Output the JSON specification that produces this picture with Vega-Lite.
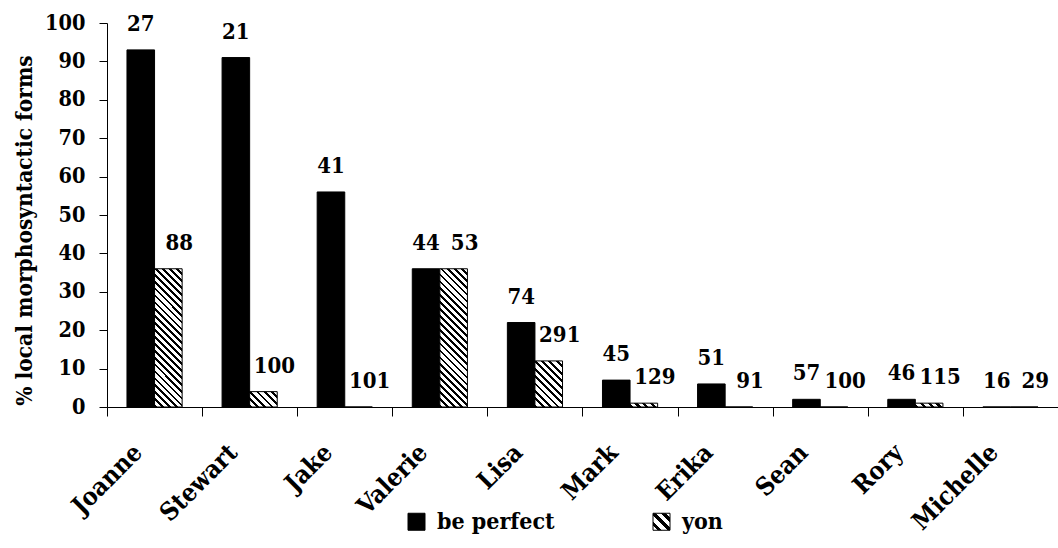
{
  "$schema": "https://vega.github.io/schema/vega-lite/v6.json",
  "width": 951,
  "height": 384,
  "autosize": {"type": "none"},
  "padding": {"left": 107, "top": 23, "right": 0, "bottom": 141},
  "background": "white",
  "data": {
    "values": [
      {"name": "Joanne", "series": "be perfect", "pct": 93, "n": 27},
      {"name": "Joanne", "series": "yon", "pct": 36, "n": 88},
      {"name": "Stewart", "series": "be perfect", "pct": 91, "n": 21},
      {"name": "Stewart", "series": "yon", "pct": 4, "n": 100},
      {"name": "Jake", "series": "be perfect", "pct": 56, "n": 41},
      {"name": "Jake", "series": "yon", "pct": 0, "n": 101},
      {"name": "Valerie", "series": "be perfect", "pct": 36, "n": 44},
      {"name": "Valerie", "series": "yon", "pct": 36, "n": 53},
      {"name": "Lisa", "series": "be perfect", "pct": 22, "n": 74},
      {"name": "Lisa", "series": "yon", "pct": 12, "n": 291},
      {"name": "Mark", "series": "be perfect", "pct": 7, "n": 45},
      {"name": "Mark", "series": "yon", "pct": 1, "n": 129},
      {"name": "Erika", "series": "be perfect", "pct": 6, "n": 51},
      {"name": "Erika", "series": "yon", "pct": 0, "n": 91},
      {"name": "Sean", "series": "be perfect", "pct": 2, "n": 57},
      {"name": "Sean", "series": "yon", "pct": 0, "n": 100},
      {"name": "Rory", "series": "be perfect", "pct": 2, "n": 46},
      {"name": "Rory", "series": "yon", "pct": 1, "n": 115},
      {"name": "Michelle", "series": "be perfect", "pct": 0, "n": 16},
      {"name": "Michelle", "series": "yon", "pct": 0, "n": 29}
    ]
  },
  "encoding": {
    "x": {
      "field": "name", "type": "nominal", "sort": null,
      "scale": {"type": "band", "paddingInner": 0.42, "paddingOuter": 0.21},
      "axis": {
        "title": null, "domainColor": "black", "domainWidth": 1,
        "tickColor": "black", "tickSize": 9, "tickWidth": 1,
        "tickOffset": -47.55, "labelOffset": 30.5,
        "labelAngle": -45, "labelAlign": "right", "labelBaseline": "middle",
        "labelPadding": 32, "labelFont": "DejaVu Serif Condensed, DejaVu Serif", "labelFontWeight": "bold",
        "labelFontSize": 25, "labelColor": "black", "labelLimit": 0, "grid": false
      }
    },
    "xOffset": {
      "field": "series", "type": "nominal", "sort": ["be perfect", "yon"],
      "scale": {"paddingInner": 0, "paddingOuter": 0}
    },
    "y": {
      "field": "pct", "type": "quantitative",
      "scale": {"domain": [0, 100], "nice": false},
      "axis": {
        "title": "% local morphosyntactic forms",
        "titleFont": "DejaVu Serif Condensed, DejaVu Serif", "titleFontWeight": "bold", "titleFontSize": 22.5,
        "titleColor": "black", "titleX": -83, "titleY": 207, "titleBaseline": "middle", "titleAlign": "center", "titleAngle": -90,
        "values": [0, 10, 20, 30, 40, 50, 60, 70, 80, 90, 100],
        "domainColor": "black", "tickColor": "black", "tickSize": 8,
        "labelFont": "DejaVu Serif Condensed, DejaVu Serif", "labelFontWeight": "bold", "labelFontSize": 21.5,
        "labelColor": "black", "labelPadding": 14, "grid": false
      }
    }
  },
  "layer": [
    {
      "mark": {"type": "bar", "strokeWidth": 1},
      "encoding": {
        "fill": {
          "condition": [
            {"test": "datum.series === 'yon' && datum.pct >= 30", "value": {"gradient": "linear", "x1": 0, "y1": 1, "x2": 0.2303, "y2": -0.1536, "stops": [
              {"offset": 0, "color": "#000"}, {"offset": 0.01667, "color": "#000"}, {"offset": 0.01667, "color": "#fff"}, {"offset": 0.04167, "color": "#fff"},
              {"offset": 0.04167, "color": "#000"}, {"offset": 0.05833, "color": "#000"}, {"offset": 0.05833, "color": "#fff"}, {"offset": 0.08333, "color": "#fff"},
              {"offset": 0.08333, "color": "#000"}, {"offset": 0.1, "color": "#000"}, {"offset": 0.1, "color": "#fff"}, {"offset": 0.125, "color": "#fff"},
              {"offset": 0.125, "color": "#000"}, {"offset": 0.14167, "color": "#000"}, {"offset": 0.14167, "color": "#fff"}, {"offset": 0.16667, "color": "#fff"},
              {"offset": 0.16667, "color": "#000"}, {"offset": 0.18333, "color": "#000"}, {"offset": 0.18333, "color": "#fff"}, {"offset": 0.20833, "color": "#fff"},
              {"offset": 0.20833, "color": "#000"}, {"offset": 0.225, "color": "#000"}, {"offset": 0.225, "color": "#fff"}, {"offset": 0.25, "color": "#fff"},
              {"offset": 0.25, "color": "#000"}, {"offset": 0.26667, "color": "#000"}, {"offset": 0.26667, "color": "#fff"}, {"offset": 0.29167, "color": "#fff"},
              {"offset": 0.29167, "color": "#000"}, {"offset": 0.30833, "color": "#000"}, {"offset": 0.30833, "color": "#fff"}, {"offset": 0.33333, "color": "#fff"},
              {"offset": 0.33333, "color": "#000"}, {"offset": 0.35, "color": "#000"}, {"offset": 0.35, "color": "#fff"}, {"offset": 0.375, "color": "#fff"},
              {"offset": 0.375, "color": "#000"}, {"offset": 0.39167, "color": "#000"}, {"offset": 0.39167, "color": "#fff"}, {"offset": 0.41667, "color": "#fff"},
              {"offset": 0.41667, "color": "#000"}, {"offset": 0.43333, "color": "#000"}, {"offset": 0.43333, "color": "#fff"}, {"offset": 0.45833, "color": "#fff"},
              {"offset": 0.45833, "color": "#000"}, {"offset": 0.475, "color": "#000"}, {"offset": 0.475, "color": "#fff"}, {"offset": 0.5, "color": "#fff"},
              {"offset": 0.5, "color": "#000"}, {"offset": 0.51667, "color": "#000"}, {"offset": 0.51667, "color": "#fff"}, {"offset": 0.54167, "color": "#fff"},
              {"offset": 0.54167, "color": "#000"}, {"offset": 0.55833, "color": "#000"}, {"offset": 0.55833, "color": "#fff"}, {"offset": 0.58333, "color": "#fff"},
              {"offset": 0.58333, "color": "#000"}, {"offset": 0.6, "color": "#000"}, {"offset": 0.6, "color": "#fff"}, {"offset": 0.625, "color": "#fff"},
              {"offset": 0.625, "color": "#000"}, {"offset": 0.64167, "color": "#000"}, {"offset": 0.64167, "color": "#fff"}, {"offset": 0.66667, "color": "#fff"},
              {"offset": 0.66667, "color": "#000"}, {"offset": 0.68333, "color": "#000"}, {"offset": 0.68333, "color": "#fff"}, {"offset": 0.70833, "color": "#fff"},
              {"offset": 0.70833, "color": "#000"}, {"offset": 0.725, "color": "#000"}, {"offset": 0.725, "color": "#fff"}, {"offset": 0.75, "color": "#fff"},
              {"offset": 0.75, "color": "#000"}, {"offset": 0.76667, "color": "#000"}, {"offset": 0.76667, "color": "#fff"}, {"offset": 0.79167, "color": "#fff"},
              {"offset": 0.79167, "color": "#000"}, {"offset": 0.80833, "color": "#000"}, {"offset": 0.80833, "color": "#fff"}, {"offset": 0.83333, "color": "#fff"},
              {"offset": 0.83333, "color": "#000"}, {"offset": 0.85, "color": "#000"}, {"offset": 0.85, "color": "#fff"}, {"offset": 0.875, "color": "#fff"},
              {"offset": 0.875, "color": "#000"}, {"offset": 0.89167, "color": "#000"}, {"offset": 0.89167, "color": "#fff"}, {"offset": 0.91667, "color": "#fff"},
              {"offset": 0.91667, "color": "#000"}, {"offset": 0.93333, "color": "#000"}, {"offset": 0.93333, "color": "#fff"}, {"offset": 0.95833, "color": "#fff"},
              {"offset": 0.95833, "color": "#000"}, {"offset": 0.975, "color": "#000"}, {"offset": 0.975, "color": "#fff"}, {"offset": 1, "color": "#fff"}
            ]}},
            {"test": "datum.series === 'yon' && datum.pct >= 10", "value": {"gradient": "linear", "x1": 0, "y1": 1, "x2": 0.7044, "y2": -0.1769, "stops": [
              {"offset": 0, "color": "#000"}, {"offset": 0.04, "color": "#000"}, {"offset": 0.04, "color": "#fff"}, {"offset": 0.1, "color": "#fff"},
              {"offset": 0.1, "color": "#000"}, {"offset": 0.14, "color": "#000"}, {"offset": 0.14, "color": "#fff"}, {"offset": 0.2, "color": "#fff"},
              {"offset": 0.2, "color": "#000"}, {"offset": 0.24, "color": "#000"}, {"offset": 0.24, "color": "#fff"}, {"offset": 0.3, "color": "#fff"},
              {"offset": 0.3, "color": "#000"}, {"offset": 0.34, "color": "#000"}, {"offset": 0.34, "color": "#fff"}, {"offset": 0.4, "color": "#fff"},
              {"offset": 0.4, "color": "#000"}, {"offset": 0.44, "color": "#000"}, {"offset": 0.44, "color": "#fff"}, {"offset": 0.5, "color": "#fff"},
              {"offset": 0.5, "color": "#000"}, {"offset": 0.54, "color": "#000"}, {"offset": 0.54, "color": "#fff"}, {"offset": 0.6, "color": "#fff"},
              {"offset": 0.6, "color": "#000"}, {"offset": 0.64, "color": "#000"}, {"offset": 0.64, "color": "#fff"}, {"offset": 0.7, "color": "#fff"},
              {"offset": 0.7, "color": "#000"}, {"offset": 0.74, "color": "#000"}, {"offset": 0.74, "color": "#fff"}, {"offset": 0.8, "color": "#fff"},
              {"offset": 0.8, "color": "#000"}, {"offset": 0.84, "color": "#000"}, {"offset": 0.84, "color": "#fff"}, {"offset": 0.9, "color": "#fff"},
              {"offset": 0.9, "color": "#000"}, {"offset": 0.94, "color": "#000"}, {"offset": 0.94, "color": "#fff"}, {"offset": 1, "color": "#fff"}
            ]}},
            {"test": "datum.series === 'yon' && datum.pct >= 3", "value": {"gradient": "linear", "x1": 0, "y1": 1, "x2": 1.1883, "y2": 0.3382, "stops": [
              {"offset": 0, "color": "#000"}, {"offset": 0.0667, "color": "#000"}, {"offset": 0.0667, "color": "#fff"}, {"offset": 0.1667, "color": "#fff"},
              {"offset": 0.1667, "color": "#000"}, {"offset": 0.2333, "color": "#000"}, {"offset": 0.2333, "color": "#fff"}, {"offset": 0.3333, "color": "#fff"},
              {"offset": 0.3333, "color": "#000"}, {"offset": 0.4, "color": "#000"}, {"offset": 0.4, "color": "#fff"}, {"offset": 0.5, "color": "#fff"},
              {"offset": 0.5, "color": "#000"}, {"offset": 0.5667, "color": "#000"}, {"offset": 0.5667, "color": "#fff"}, {"offset": 0.6667, "color": "#fff"},
              {"offset": 0.6667, "color": "#000"}, {"offset": 0.7333, "color": "#000"}, {"offset": 0.7333, "color": "#fff"}, {"offset": 0.8333, "color": "#fff"},
              {"offset": 0.8333, "color": "#000"}, {"offset": 0.9, "color": "#000"}, {"offset": 0.9, "color": "#fff"}, {"offset": 1, "color": "#fff"}
            ]}},
            {"test": "datum.series === 'yon'", "value": {"gradient": "linear", "x1": 0, "y1": 1, "x2": 1.1176, "y2": 0.8444, "stops": [
              {"offset": 0, "color": "#000"}, {"offset": 0.1, "color": "#000"}, {"offset": 0.1, "color": "#fff"}, {"offset": 0.25, "color": "#fff"},
              {"offset": 0.25, "color": "#000"}, {"offset": 0.35, "color": "#000"}, {"offset": 0.35, "color": "#fff"}, {"offset": 0.5, "color": "#fff"},
              {"offset": 0.5, "color": "#000"}, {"offset": 0.6, "color": "#000"}, {"offset": 0.6, "color": "#fff"}, {"offset": 0.75, "color": "#fff"},
              {"offset": 0.75, "color": "#000"}, {"offset": 0.85, "color": "#000"}, {"offset": 0.85, "color": "#fff"}, {"offset": 1, "color": "#fff"}
            ]}}
          ],
          "value": "black"
        },
        "stroke": {
          "field": "series", "type": "nominal",
          "scale": {"domain": ["be perfect", "yon"], "range": ["black", "black"]},
          "legend": {
            "orient": "none", "legendX": 298, "legendY": 487, "direction": "horizontal",
            "title": null, "symbolType": "square", "symbolSize": 289, "symbolStrokeWidth": 1,
            "labelFont": "DejaVu Serif Condensed, DejaVu Serif", "labelFontWeight": "bold", "labelFontSize": 23,
            "labelColor": "black", "labelOffset": 9, "columnPadding": 95, "padding": 0, "labelLimit": 0,
            "encoding": {
              "labels": {
                "font": {"value": "DejaVu Serif Condensed, DejaVu Serif"},
                "fontWeight": {"value": "bold"}
              },
              "symbols": {
                "fill": {
                  "condition": {"test": "datum.value === 'yon'", "value": {"gradient": "linear", "x1": 0, "y1": 1, "x2": 1, "y2": 0, "stops": [
                    {"offset": 0, "color": "#fff"}, {"offset": 0.13, "color": "#fff"}, {"offset": 0.13, "color": "#000"}, {"offset": 0.27, "color": "#000"},
                    {"offset": 0.27, "color": "#fff"}, {"offset": 0.43, "color": "#fff"}, {"offset": 0.43, "color": "#000"}, {"offset": 0.57, "color": "#000"},
                    {"offset": 0.57, "color": "#fff"}, {"offset": 0.73, "color": "#fff"}, {"offset": 0.73, "color": "#000"}, {"offset": 0.87, "color": "#000"},
                    {"offset": 0.87, "color": "#fff"}, {"offset": 1, "color": "#fff"}
                  ]}},
                  "value": "black"
                },
                "opacity": {"value": 1}
              }
            }
          }
        }
      }
    },
    {
      "transform": [{"filter": "datum.series === 'be perfect'"}],
      "mark": {"type": "text", "dy": -19, "baseline": "alphabetic", "align": "center", "font": "DejaVu Serif Condensed, DejaVu Serif", "fontWeight": "bold", "fontSize": 22, "color": "black"},
      "encoding": {
        "text": {"field": "n", "type": "nominal"}
      }
    },
    {
      "transform": [{"filter": "datum.series === 'yon'"}],
      "mark": {"type": "text", "dy": -19, "dx": 11, "baseline": "alphabetic", "align": "center", "font": "DejaVu Serif Condensed, DejaVu Serif", "fontWeight": "bold", "fontSize": 22, "color": "black"},
      "encoding": {
        "text": {"field": "n", "type": "nominal"}
      }
    }
  ],
  "config": {
    "view": {"stroke": null},
    "font": "DejaVu Serif Condensed, DejaVu Serif",
    "legend": {"labelFont": "DejaVu Serif Condensed, DejaVu Serif", "labelFontWeight": "bold"}
  }
}
